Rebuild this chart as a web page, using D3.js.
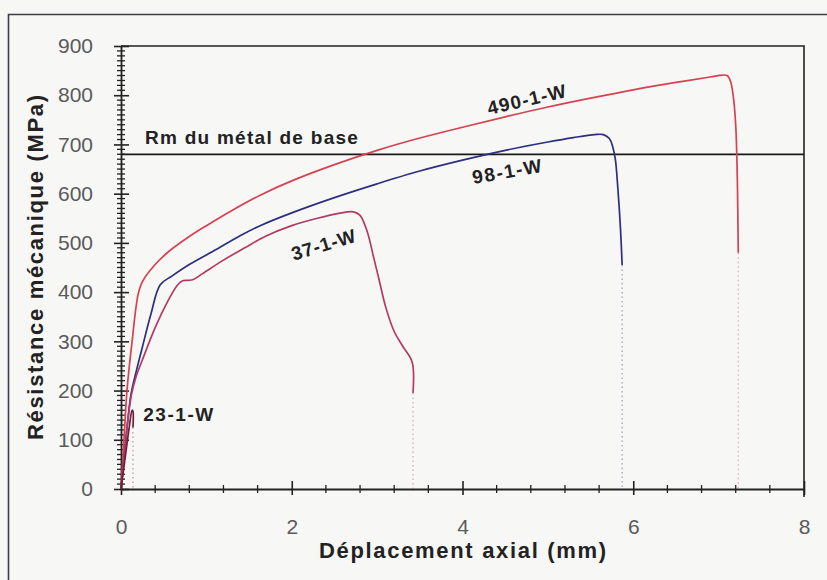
<!DOCTYPE html>
<html>
<head>
<meta charset="utf-8">
<script src="https://cdn.jsdelivr.net/npm/d3@7"></script>
<style>
  html, body { margin: 0; padding: 0; background: #f7f7f6; }
  svg { display: block; }
  text { font-family: "Liberation Sans", Arial, sans-serif; }
</style>
</head>
<body>
<svg id="chart" width="827" height="580"></svg>
<script>
// Tensile curves: axial displacement (mm) vs mechanical strength (MPa)
const xTicks = [0, 2, 4, 6, 8];
const yTicks = [0, 100, 200, 300, 400, 500, 600, 700, 800, 900];
const rmBase = 680; // Rm of the base metal (MPa)

const s490X = [0, 0.035, 0.07, 0.13, 0.2, 0.25, 0.4, 0.57, 0.8, 1.0, 1.3, 1.63, 2.0, 2.5, 3.0, 3.5, 4.0, 4.5, 5.0, 5.5, 6.0, 6.5, 6.9, 7.05, 7.1, 7.14, 7.17, 7.2, 7.22, 7.23];
const s490Y = [0, 100, 200, 300, 395, 421, 456, 484, 513, 535, 566, 597, 626, 659, 688, 713, 735, 756, 776, 794, 811, 826, 837, 841, 840, 828, 800, 740, 620, 480];

const s98X = [0, 0.04, 0.08, 0.12, 0.18, 0.25, 0.35, 0.46, 0.6, 0.8, 1.12, 1.4, 1.63, 2.0, 2.5, 3.0, 3.5, 4.0, 4.5, 5.0, 5.3, 5.55, 5.65, 5.72, 5.76, 5.79, 5.82, 5.85, 5.87];
const s98Y = [0, 70, 140, 195, 240, 288, 355, 415, 433, 456, 487, 515, 535, 561, 592, 620, 646, 668, 688, 705, 714, 720, 720, 712, 695, 670, 610, 530, 455];

const s37X = [0, 0.04, 0.08, 0.12, 0.18, 0.25, 0.4, 0.55, 0.66, 0.72, 0.78, 0.84, 0.95, 1.2, 1.45, 1.7, 2.0, 2.3, 2.55, 2.72, 2.8, 2.88, 2.96, 3.03, 3.1, 3.2, 3.3, 3.41, 3.42];
const s37Y = [0, 70, 140, 190, 230, 262, 328, 382, 414, 423, 424, 425, 437, 465, 490, 514, 535, 550, 560, 563, 556, 525, 470, 420, 370, 320, 290, 258, 195];

const s23X = [0, 0.05, 0.1, 0.13, 0.14, 0.14];
const s23Y = [0, 65, 130, 160, 158, 125];

const seriesNames = ["490-1-W", "98-1-W", "37-1-W", "23-1-W"];

const series = [
  { name: seriesNames[0], xs: s490X, ys: s490Y, color: "#d8414f" },
  { name: seriesNames[1], xs: s98X,  ys: s98Y,  color: "#2b2f7e" },
  { name: seriesNames[2], xs: s37X,  ys: s37Y,  color: "#b23a66" },
  { name: seriesNames[3], xs: s23X,  ys: s23Y,  color: "#6a2038" }
];

// curve label anchors (data units), rotation and drawn width
const labelPlacement = {
  "490-1-W": { x: 4.75, y: 791, rot: -13, anchor: "middle", len: 80 },
  "98-1-W":  { x: 4.52, y: 645, rot: -10, anchor: "middle", len: 70 },
  "37-1-W":  { x: 2.37, y: 496, rot: -17, anchor: "middle", len: 66 },
  "23-1-W":  { x: 0.26, y: 152, rot: 0,   anchor: "start",  len: 70 }
};

const svg = d3.select("#chart");
const W = 827, H = 580;
const plot = { left: 121, right: 804, top: 46, bottom: 489 };

const x = d3.scaleLinear().domain([0, 8]).range([plot.left, plot.right]);
const y = d3.scaleLinear().domain([0, 900]).range([plot.bottom, plot.top]);

// outer frame (left and top edges)
svg.append("path")
  .attr("d", `M8.5,${H} L8.5,14.5 L${W},14.5`)
  .attr("fill", "none").attr("stroke", "#3d3d45").attr("stroke-width", 1.6);

// plot box: top and right edges
svg.append("path")
  .attr("d", `M${plot.left},${plot.top} L${plot.right},${plot.top} L${plot.right},${plot.bottom + 8}`)
  .attr("fill", "none").attr("stroke", "#222").attr("stroke-width", 1.6);

// minor ticks
const yMinor = d3.range(0, 901, 10).filter(v => v % 100 !== 0);
svg.append("g").selectAll("line").data(yMinor).join("line")
  .attr("x1", plot.left - 4).attr("x2", plot.left + 4)
  .attr("y1", d => y(d)).attr("y2", d => y(d))
  .attr("stroke", "#222").attr("stroke-width", 1.3);
const xMinor = d3.range(0, 8.01, 0.4).filter(v => Math.abs(v / 2 - Math.round(v / 2)) > 1e-6);
svg.append("g").selectAll("line").data(xMinor).join("line")
  .attr("x1", d => x(d)).attr("x2", d => x(d))
  .attr("y1", plot.bottom - 4).attr("y2", plot.bottom + 4)
  .attr("stroke", "#222").attr("stroke-width", 1.3);

// y axis
const yAxis = svg.append("g")
  .attr("transform", `translate(${plot.left},0)`)
  .call(d3.axisLeft(y).tickValues(yTicks).tickSizeInner(7).tickSizeOuter(0).tickPadding(21));
yAxis.select(".domain").attr("stroke", "#222").attr("stroke-width", 1.8);
yAxis.selectAll(".tick line").attr("x2", 8).attr("x1", -7).attr("stroke", "#222").attr("stroke-width", 1.6);
yAxis.selectAll(".tick text")
  .attr("font-size", 21).attr("fill", "#5a5a5a")
  .attr("font-family", "'Liberation Sans', Arial, sans-serif");

// x axis
const xAxis = svg.append("g")
  .attr("transform", `translate(0,${plot.bottom})`)
  .call(d3.axisBottom(x).tickValues(xTicks).tickFormat(d3.format("d")).tickSizeInner(6).tickSizeOuter(0).tickPadding(24));
xAxis.select(".domain").attr("stroke", "#222").attr("stroke-width", 1.8);
xAxis.selectAll(".tick line").attr("y1", -8).attr("y2", 6).attr("stroke", "#222").attr("stroke-width", 1.6);
xAxis.selectAll(".tick text")
  .attr("font-size", 21).attr("fill", "#5a5a5a")
  .attr("font-family", "'Liberation Sans', Arial, sans-serif");

// axis titles
svg.append("text")
  .attr("x", (plot.left + plot.right) / 2).attr("y", 558)
  .attr("text-anchor", "middle")
  .attr("font-size", 22).attr("font-weight", "bold").attr("fill", "#222")
  .attr("textLength", 287).attr("lengthAdjust", "spacing")
  .text("Déplacement axial (mm)");
svg.append("text")
  .attr("transform", `translate(43,${(plot.top + plot.bottom) / 2}) rotate(-90)`)
  .attr("text-anchor", "middle")
  .attr("font-size", 22).attr("font-weight", "bold").attr("fill", "#222")
  .attr("textLength", 345).attr("lengthAdjust", "spacing")
  .text("Résistance mécanique (MPa)");

// base metal Rm reference line
svg.append("line")
  .attr("x1", plot.left).attr("x2", plot.right)
  .attr("y1", y(rmBase)).attr("y2", y(rmBase))
  .attr("stroke", "#1a1a1a").attr("stroke-width", 1.8);
svg.append("text")
  .attr("x", x(0.28)).attr("y", y(rmBase) - 10)
  .attr("font-size", 19).attr("font-weight", "bold").attr("fill", "#222")
  .attr("textLength", 213).attr("lengthAdjust", "spacing")
  .text("Rm du métal de base");

// curves
const line = d3.line()
  .x(d => x(d[0])).y(d => y(d[1]))
  .curve(d3.curveCatmullRom.alpha(0.5));

series.forEach(s => {
  const pts = s.xs.map((v, i) => [v, s.ys[i]]);
  svg.append("path")
    .datum(pts)
    .attr("d", line)
    .attr("fill", "none")
    .attr("stroke", s.color)
    .attr("stroke-width", 1.7)
    .attr("stroke-linejoin", "round");
  // fracture: dotted drop from last recorded point down to zero
  const last = pts[pts.length - 1];
  svg.append("line")
    .attr("x1", x(last[0])).attr("x2", x(last[0]))
    .attr("y1", y(last[1])).attr("y2", y(0))
    .attr("stroke", s.color).attr("stroke-opacity", 0.45)
    .attr("stroke-width", 1.2)
    .attr("stroke-dasharray", "1.5,3");
});

// curve labels
series.forEach(s => {
  const p = labelPlacement[s.name];
  svg.append("text")
    .attr("transform", `translate(${x(p.x)},${y(p.y)}) rotate(${p.rot})`)
    .attr("text-anchor", p.anchor)
    .attr("dominant-baseline", "central")
    .attr("font-size", 19).attr("font-weight", "bold").attr("fill", "#222")
    .attr("textLength", p.len).attr("lengthAdjust", "spacing")
    .text(s.name);
});
</script>
</body>
</html>
